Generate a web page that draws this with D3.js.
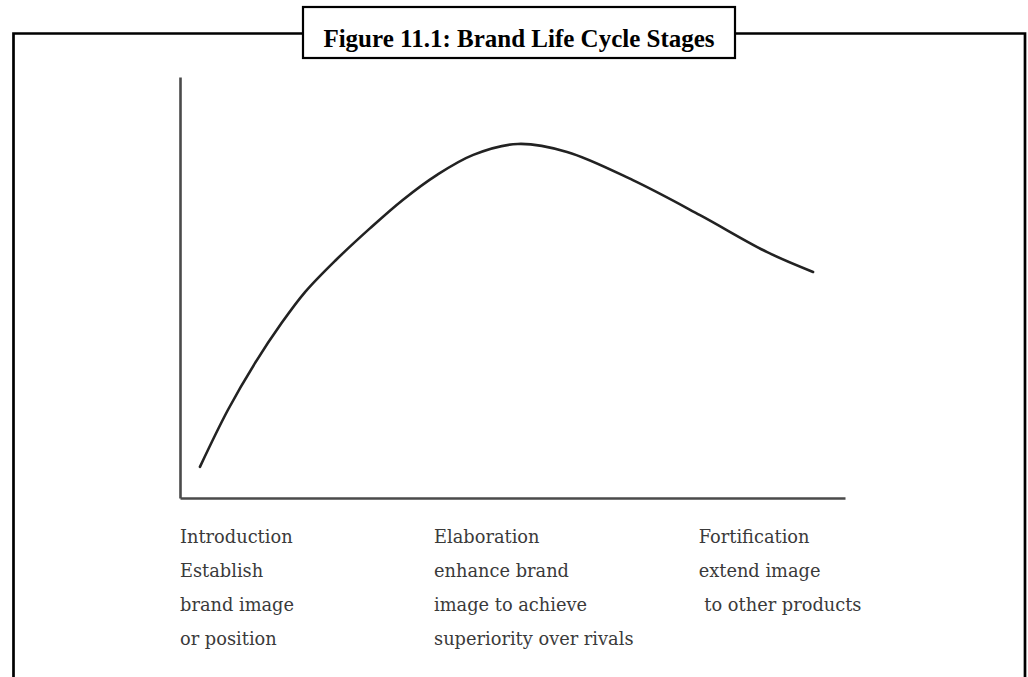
<!DOCTYPE html>
<html>
<head>
    <meta charset="utf-8">
    <title>brand life cycle</title>
    <script type="text/javascript" src="https://d3js.org/d3.v7.min.js"></script>
    <style>
      body { margin: 0; background: #fff; }
    </style>
</head>
<body>
<script type="text/javascript">
    // data (abstract units, 0-100 on both axes)
    var title = "Figure 11.1: Brand Life Cycle Stages"
    var curveX = [3.0, 7.2, 11.3, 15.3, 18.8, 23.3, 28.6, 33.5, 38.6, 44.1, 50.8, 58.2, 68.1, 78.2, 88.3, 95.2]
    var curveY = [7.4, 20.9, 32.1, 41.6, 48.9, 56.3, 64.1, 70.8, 76.7, 81.5, 84.1, 82.2, 75.5, 67.2, 58.4, 53.7]
    var stageNames = ["Introduction", "Elaboration", "Fortification"]
    var stageLines = [
        ["Establish", "brand image", "or position"],
        ["enhance brand", "image to achieve", "superiority over rivals"],
        ["extend image", " to other products"]
    ]
    var stageStart = [0, 38.2, 78.0]   // where each column of text starts, in x units

    var width = 1028
    var height = 677
    var svg = d3.select("body")
        .append("svg")
        .attr("width", width)
        .attr("height", height)

    //frame with the title box sitting on the top rule
    var frameTop = 33.5
    var boxL = 303, boxR = 735, boxT = 7, boxB = 58
    svg.append("path")
        .attr("d", "M13.5," + height + "V" + frameTop + "H" + boxL + "M" + boxR + "," + frameTop + "H1025V" + height)
        .attr("fill", "none")
        .attr("stroke", "#000")
        .attr("stroke-width", 2.7)
    svg.append("rect")
        .attr("x", boxL).attr("y", boxT)
        .attr("width", boxR - boxL).attr("height", boxB - boxT)
        .attr("fill", "#fff")
        .attr("stroke", "#000")
        .attr("stroke-width", 2.2)
    svg.append("text")
        .attr("x", (boxL + boxR) / 2)
        .attr("y", 47)
        .attr("text-anchor", "middle")
        .attr("font-family", "Liberation Serif")
        .attr("font-weight", "bold")
        .attr("font-size", 25)
        .text(title)

    //chart
    var x = d3.scaleLinear().domain([0, 100]).range([180, 845])
    var y = d3.scaleLinear().domain([0, 100]).range([498, 77])

    svg.append("g")
        .attr("transform", "translate(0," + y(0) + ")")
        .call(d3.axisBottom(x).ticks(0).tickSizeOuter(0))
    svg.append("g")
        .attr("transform", "translate(" + x(0) + ",0)")
        .call(d3.axisLeft(y).ticks(0).tickSizeOuter(0))
    svg.selectAll(".domain")
        .attr("stroke", "#4a4a4a")
        .attr("stroke-width", 2.6)

    var pts = curveX.map(function(d, i) { return [d, curveY[i]] })
    var line = d3.line()
        .x(function(d) { return x(d[0]) })
        .y(function(d) { return y(d[1]) })
        .curve(d3.curveCatmullRom.alpha(0.5))
    svg.append("path")
        .attr("d", line(pts))
        .attr("fill", "none")
        .attr("stroke", "#222")
        .attr("stroke-width", 2.6)
        .attr("stroke-linecap", "round")

    //stage labels under the x axis
    var rowGap = 34
    for (var i in stageNames) {
        var g = svg.append("g")
            .attr("transform", "translate(" + x(stageStart[i]) + ",543)")
        var rows = [stageNames[i]].concat(stageLines[i])
        g.selectAll("text")
            .data(rows)
            .enter()
            .append("text")
            .attr("x", 0)
            .attr("y", function(d, j) { return j * rowGap })
            .attr("font-family", "DejaVu Serif")
            .attr("font-size", 17.8)
            .attr("fill", "#3a3a3a")
            .style("white-space", "pre")
            .text(function(d) { return d })
    }
</script>
</body>
</html>
